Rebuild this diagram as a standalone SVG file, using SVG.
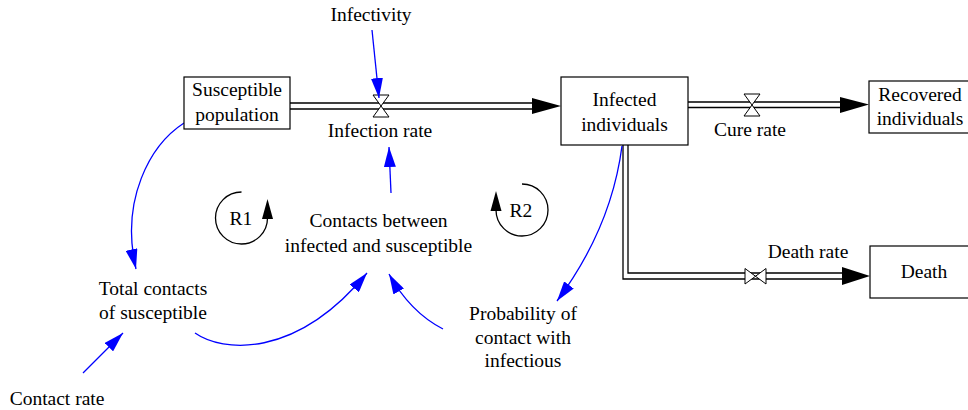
<svg xmlns="http://www.w3.org/2000/svg" width="968" height="410" viewBox="0 0 968 410">
<style>
text{font-family:'Liberation Serif','DejaVu Serif',serif;font-size:19.5px;fill:#000;text-anchor:middle}
.box{fill:#fff;stroke:#000;stroke-width:1.2}
.pipe{fill:none;stroke:#000;stroke-width:1.3}
.valve{fill:#fff;stroke:#000;stroke-width:1}
.link{fill:none;stroke:#0000ff;stroke-width:1.3}
.loop{fill:none;stroke:#000;stroke-width:1.3}
.head{fill:#000}
</style>
<defs>
<marker id="ab" markerUnits="userSpaceOnUse" markerWidth="20" markerHeight="12" viewBox="0 0 20 12" refX="20" refY="6" orient="auto">
<path d="M0,0 L20,6 L0,12 z" fill="#0000ff"/>
</marker>
</defs>

<g id="connectors">
<g id="flow-infection">
<path class="pipe" d="M290,103 H533 M290,109 H533"/>
<path class="head" d="M532,98 L561,106 L532,114 z"/>
<path class="valve" d="M373,95 H389 L373,117 H389 Z"/>
</g>
<g id="flow-cure">
<path class="pipe" d="M688,102 H841 M688,107.5 H841"/>
<path class="head" d="M840,97 L869,104.5 L840,113 z"/>
<path class="valve" d="M744,94 H760 L744,116 H760 Z"/>
</g>
<g id="flow-death">
<path class="pipe" d="M623,145 V279 H843 M628,145 V273 H843"/>
<path class="head" d="M842,267 L870,276 L842,285 z"/>
<path class="valve" d="M745,268.5 V284 L766,268.5 V284 Z"/>
</g>
<path class="link" marker-end="url(#ab)" d="M372,30 L379,98"/>
<path class="link" marker-end="url(#ab)" d="M391,193 Q390,170 389,147"/>
<path class="link" marker-end="url(#ab)" d="M184,123 C150,145 120,200 136,269"/>
<path class="link" marker-end="url(#ab)" d="M83,373 L123,333"/>
<path class="link" marker-end="url(#ab)" d="M195,333 C222,352 295,360 367,273"/>
<path class="link" marker-end="url(#ab)" d="M443,329 Q410,312 389,274"/>
<path class="link" marker-end="url(#ab)" d="M622,146 C615,200 595,250 557,301"/>
</g>

<g id="loop-R1">
<path class="loop" d="M241.5,192 A26,26 0 1,0 267.5,218"/>
<path class="head" d="M262,219 L267.5,199 L273,219 z"/>
<text x="241" y="225">R1</text>
</g>
<g id="loop-R2">
<path class="loop" d="M522,184 A26,26 0 1,1 496,210"/>
<path class="head" d="M490.5,211 L496,191 L501.5,211 z"/>
<text x="521" y="217">R2</text>
</g>

<g id="susceptible">
<rect class="box" x="184" y="77" width="106" height="52"/>
<text x="237" y="96">Susceptible</text>
<text x="237" y="121">population</text>
</g>
<g id="infected">
<rect class="box" x="561" y="77" width="127" height="68"/>
<text x="624.5" y="106">Infected</text>
<text x="624.5" y="131">individuals</text>
</g>
<g id="recovered">
<rect class="box" x="869" y="81" width="110" height="52"/>
<text x="920" y="101">Recovered</text>
<text x="920" y="125">individuals</text>
</g>
<g id="death">
<rect class="box" x="870" y="246" width="110" height="52"/>
<text x="924" y="278">Death</text>
</g>

<g id="infection-rate"><text x="380" y="137">Infection rate</text></g>
<g id="cure-rate"><text x="750" y="136">Cure rate</text></g>
<g id="death-rate"><text x="808" y="258">Death rate</text></g>
<g id="infectivity"><text x="371" y="21">Infectivity</text></g>
<g id="contacts-between">
<text x="378.5" y="227">Contacts between</text>
<text x="378.5" y="252">infected and susceptible</text>
</g>
<g id="total-contacts">
<text x="153" y="295">Total contacts</text>
<text x="153" y="319">of susceptible</text>
</g>
<g id="contact-rate"><text x="57" y="405">Contact rate</text></g>
<g id="probability">
<text x="523" y="320">Probability of</text>
<text x="523" y="344">contact with</text>
<text x="523" y="367">infectious</text>
</g>
</svg>
